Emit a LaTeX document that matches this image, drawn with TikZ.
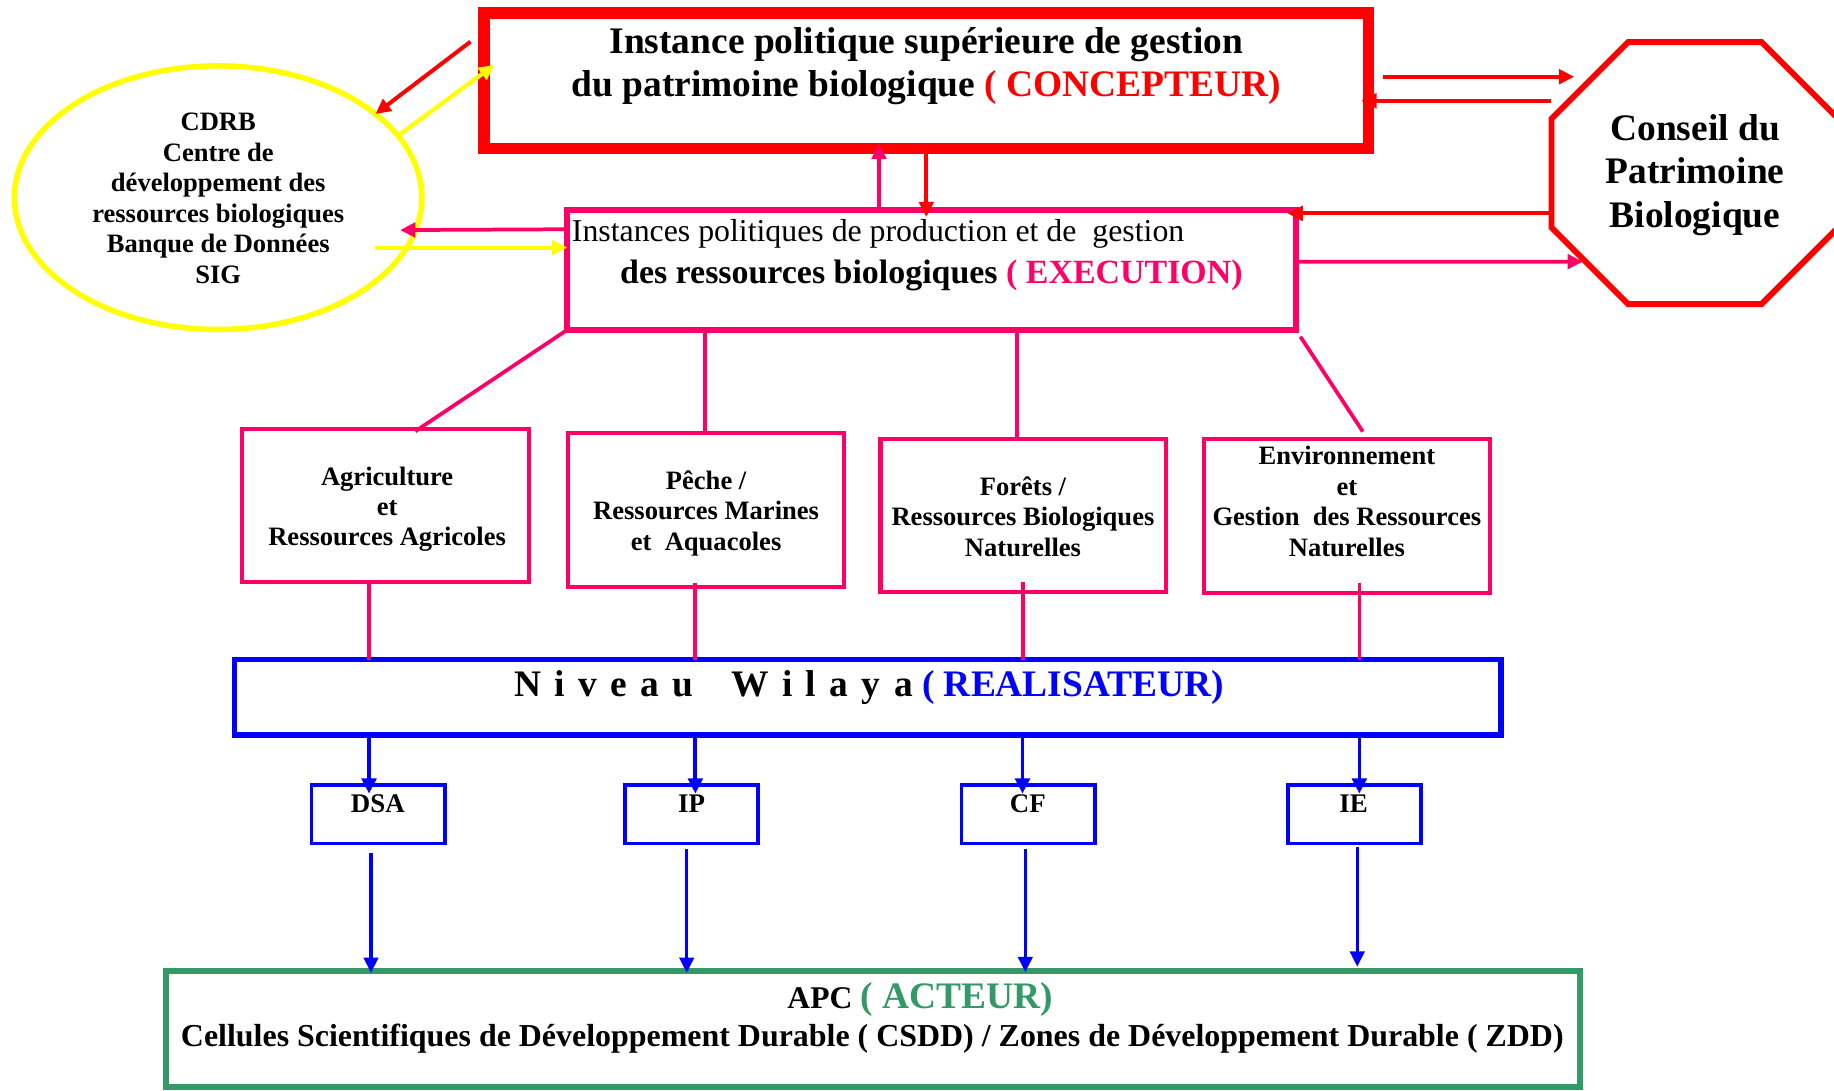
\documentclass[tikz,border=0pt]{standalone}
\usepackage{fontspec}
\setmainfont{Liberation Serif}
\usetikzlibrary{arrows.meta,calc,shapes.geometric}
\definecolor{cred}{RGB}{255,0,0}
\definecolor{cpink}{RGB}{255,0,102}
\definecolor{cblue}{RGB}{0,0,255}
\definecolor{cgreen}{RGB}{51,153,102}
\definecolor{cyellow}{RGB}{255,255,0}
\newcommand{\wlgap}{\hspace{0.36em}}
\begin{document}
% multi-line texts are placed by the baseline of their last line
\begin{tikzpicture}[x=0.5pt,y=-0.5pt,
  frame/.style={draw,rectangle,inner sep=0pt,outer sep=0pt},
  txtblock/.style={inner sep=0pt,outer sep=0pt,align=center,anchor=base},
  tipped/.style={-{Triangle[length=6.5pt,width=6.2pt]}},
  redln/.style={draw=cred,line width=1.7pt},
  pinkln/.style={draw=cpink,line width=1.6pt},
  yelln/.style={draw=cyellow,line width=1.8pt},
  bluethick/.style={draw=cblue,line width=1.6pt},
  bluethin/.style={draw=cblue,line width=1.3pt},
  subbox/.style={frame,draw=cpink,line width=1.75pt},
  subtext/.style={txtblock,font=\bfseries\fontsize{11.35}{13}\selectfont},
  smallbox/.style={frame,draw=cblue,line width=1.5pt,minimum width=57pt,minimum height=25pt},
  smalltext/.style={txtblock,font=\bfseries\fontsize{11.5}{13}\selectfont},
]
\useasboundingbox (0,0) rectangle (1568,932);
\clip (0,0) rectangle (1568,932);

% main boxes
\node[frame,draw=cred,line width=5pt,minimum width=378pt,minimum height=58pt] (top) at (792,69) {};
\node[frame,draw=cpink,line width=2.5pt,minimum width=311.5pt,minimum height=51.25pt] (exec) at (796.5,230.75) {};
\node[draw=cyellow,ellipse,line width=2.35pt,inner sep=0pt,outer sep=0pt,minimum width=174.2pt,minimum height=112.7pt] (cdrb) at (186.5,169) {};

% council octagon
\coordinate (oct) at (1449,148);
\draw[cred,line width=2.5pt] (1326.5,101.5) -- (1392,36) -- (1506,36) -- (1571.5,101.5) -- (1571.5,194.5) -- (1506,260) -- (1392,260) -- (1326.5,194.5) -- cycle;

% sector boxes
\node[subbox,minimum width=122.35pt,minimum height=65.5pt] (agr) at (329.55,432.05) {};
\node[subbox,minimum width=118pt,minimum height=65.5pt] (peche) at (603.8,436.05) {};
\node[subbox,minimum width=122pt,minimum height=65.25pt] (forets) at (874.8,440.9) {};
\node[subbox,minimum width=122.15pt,minimum height=65.5pt] (env) at (1151.7,441.15) {};

% wilaya level
\node[frame,draw=cblue,line width=2.5pt,minimum width=541.5pt,minimum height=32.3pt] (wilaya) at (742,596.2) {};
\node[smallbox] (dsa) at (323.35,696.2) {};
\node[smallbox] (ip) at (591.15,696.2) {};
\node[smallbox] (cf) at (879.05,696.2) {};
\node[smallbox] (ie) at (1158.05,696.2) {};

% local level
\node[frame,draw=cgreen,line width=2.5pt,minimum width=604.4pt,minimum height=49.55pt] (apc) at (746.6,880) {};

% texts
\node[txtblock,font=\bfseries\fontsize{16}{18.5}\selectfont] (toptext) at (792,82.7)
  {Instance politique supérieure de gestion\\du patrimoine biologique {\color{cred}( CONCEPTEUR)}};
\node[inner sep=0pt,anchor=base west,font=\fontsize{13.6}{16}\selectfont] (exectexta) at (488.6,206.6)
  {Instances politiques de production et de~ gestion};
\node[inner sep=0pt,anchor=base west,font=\bfseries\fontsize{14.5}{17}\selectfont] (exectextb) at (529.8,242.2)
  {des ressources biologiques {\color{cpink}( EXECUTION)}};
\node[txtblock,font=\bfseries\fontsize{11.35}{13.05}\selectfont] (cdrbtext) at (186.6,242.2)
  {CDRB\\Centre de\\développement des\\ressources biologiques\\Banque de Données\\SIG};
\node[txtblock,font=\bfseries\fontsize{16}{18.75}\selectfont] (conseiltext) at (1449.2,194.7)
  {Conseil du\\Patrimoine\\Biologique};
\node[subtext] (agrtext) at (331,466.8) {Agriculture\\et\\Ressources Agricoles};
\node[subtext] (pechetext) at (603.7,470.3) {Pêche /\\Ressources Marines\\et~ Aquacoles};
\node[subtext] (foretstext) at (874.6,475.4) {Forêts /\\Ressources Biologiques\\Naturelles};
\node[subtext] (envtext) at (1151.5,475.4) {Environnement\\et\\Gestion~ des Ressources\\Naturelles};
\node[txtblock,font=\bfseries\fontsize{16}{19}\selectfont] (wilayatext) at (743,595.6)
  {N\wlgap i\wlgap v\wlgap e\wlgap a\wlgap u\hspace{1em}W\wlgap i\wlgap l\wlgap a\wlgap y\wlgap a {\color{cblue}( REALISATEUR)}};
\node[smalltext] (dsatext) at (323,694.5) {DSA};
\node[smalltext] (iptext) at (591.2,694.5) {IP};
\node[smalltext] (cftext) at (878.7,694.5) {CF};
\node[smalltext] (ietext) at (1157.2,694.5) {IE};
\node[txtblock,font=\bfseries] (apctexta) at (786.6,862)
  {\fontsize{13.5}{16}\selectfont APC {\fontsize{16}{19}\selectfont\color{cgreen}( ACTEUR)}};
\node[txtblock,font=\bfseries\fontsize{13.65}{16}\selectfont] (apctextb) at (745.8,894.3)
  {Cellules Scientifiques de Développement Durable ( CSDD) / Zones de Développement Durable ( ZDD)};

% links around the top level
\draw[redln,tipped] ($(top.west)+(-11.7,-33.4)$) -- (cdrb.28.4);
\draw[yelln,tipped] (cdrb.19) -- ($(top.west)+(8.6,-13.4)$);
\draw[pinkln,tipped] ($(exec.north west)+(0,16.5)$) -- ($(cdrb.center)+(155.6,27.7)$);
\draw[yelln,tipped] ($(cdrb.center)+(134,42.7)$) -- ($(exec.north west)+(0,32.2)$);
\draw[pinkln,tipped] ($(exec.north)+(-45,2.5)$) -- ($(top.south)+(-40.5,-4)$);
\draw[redln,tipped] (top.south) -- ($(exec.north)+(-4.5,6)$);
\draw[redln,tipped] ($(top.east)+(12.8,-3.4)$) -- ($(oct)+(-103.1,-82.4)$);
\draw[redln,tipped] ($(oct)+(-122.6,-61.9)$) -- ($(top.east)+(-6.1,17.1)$);
\draw[redln,tipped] ($(oct)+(-122.5,34.4)$) -- ($(exec.north east)+(-7.2,2.9)$);
\draw[pinkln,tipped] ($(exec.east)+(0,-7)$) -- ($(oct)+(-95.8,75.7)$);

% execution level to sectors
\draw[pinkln] (exec.south west) -- ($(agr.north)+(25.5,2.2)$);
\draw[pinkln] ($(exec.south west)+(117.5,0)$) -- ($(peche.north)+(-1.3,0)$);
\draw[pinkln] ($(exec.south)+(73,0)$) -- ($(forets.north)+(-5.3,0)$);
\draw[pinkln] ($(exec.south east)+(3.8,5.8)$) -- ($(env.north)+(13.5,-6.6)$);

% sectors to wilaya
\path ($(agr.south)+(-14.25,0)$) coordinate (agrdown)
      ($(peche.south)+(-9.8,-3.5)$) coordinate (pechedown)
      ($(forets.south)+(-0.3,-8.2)$) coordinate (foretsdown)
      ($(env.south)+(10.7,-8.6)$) coordinate (envdown);
\draw[pinkln] (agrdown) -- (agrdown |- wilaya.north);
\draw[pinkln] (pechedown) -- (pechedown |- wilaya.north);
\draw[pinkln] (foretsdown) -- (foretsdown |- wilaya.north);
\draw[pinkln] (envdown) -- (envdown |- wilaya.north);

% wilaya to directorates
\path ($(dsa.north)+(-7.85,7.3)$) coordinate (dsain)
      ($(ip.north)+(3.35,7.3)$) coordinate (ipin)
      ($(cf.north)+(-4.85,7.3)$) coordinate (cfin)
      ($(ie.north)+(4.15,7.3)$) coordinate (iein);
\draw[bluethick,tipped] (dsain |- wilaya.south) -- (dsain);
\draw[bluethick,tipped] (ipin |- wilaya.south) -- (ipin);
\draw[bluethick,tipped] (cfin |- wilaya.south) -- (cfin);
\draw[bluethick,tipped] (iein |- wilaya.south) -- (iein);

% directorates to APC
\path ($(dsa.south)+(-6.15,8.4)$) coordinate (dsaout)
      ($(ip.south)+(-4.05,5)$) coordinate (ipout)
      ($(cf.south)+(-2.45,5)$) coordinate (cfout)
      ($(ie.south)+(2.35,3.2)$) coordinate (ieout);
\draw[bluethin,tipped] (dsaout) -- ([yshift=-0.6pt]dsaout |- apc.north);
\draw[bluethin,tipped] (ipout) -- ([yshift=-0.6pt]ipout |- apc.north);
\draw[bluethin,tipped] (cfout) -- ([yshift=-0.3pt]cfout |- apc.north);
\draw[bluethin,tipped] (ieout) -- ([yshift=2pt]ieout |- apc.north);
\end{tikzpicture}
\end{document}
